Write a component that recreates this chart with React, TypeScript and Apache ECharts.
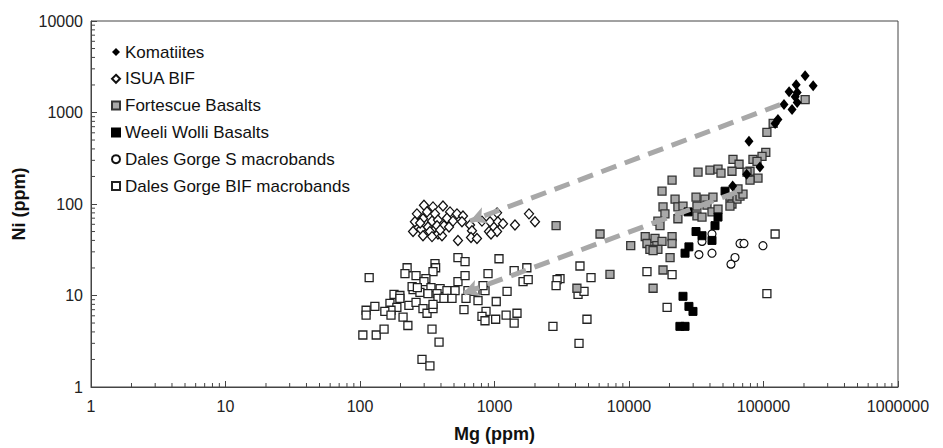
import React, { useEffect, useRef } from 'react';
import * as echarts from 'echarts';

// ---- Data: [Mg (ppm), Ni (ppm)] ----
const komatiites: number[][] = [
  [204000, 2520], [175000, 2010], [234000, 1960], [155000, 1690], [178000, 1650],
  [172000, 1490], [142000, 1220], [178000, 1290], [163000, 1080], [128000, 840],
  [122000, 760], [78000, 484], [94000, 253], [75000, 212], [59000, 157],
];

const isuaBif: number[][] = [
  [299, 97], [349, 93], [414, 95], [265, 78], [315, 82], [361, 78], [467, 82], [526, 78],
  [583, 74], [256, 64], [294, 69], [343, 65], [380, 67], [443, 70], [491, 65], [573, 64],
  [248, 50], [284, 53], [320, 56], [374, 58], [421, 58], [331, 50], [380, 47], [294, 45],
  [343, 44], [407, 45], [658, 59], [680, 51], [535, 40], [669, 43], [741, 42], [807, 65],
  [926, 64], [1045, 80], [1060, 64], [1157, 61], [910, 50], [1045, 50], [1420, 59],
  [1805, 78], [2000, 64], [942, 47], [280, 62], [394, 52], [459, 56],
];

const fortescueBasalts: number[][] = [
  [204000, 1385], [118000, 759], [106000, 606], [104000, 367], [97500, 332], [83500, 308],
  [89500, 293], [59300, 308], [65800, 272], [79400, 228], [91000, 192], [79400, 182],
  [75400, 223], [32600, 223], [40000, 234], [45900, 240], [48300, 217], [58300, 228],
  [20900, 182], [17600, 138], [22000, 113], [31500, 119], [36700, 113], [42100, 119],
  [17900, 93], [23100, 93], [25200, 95], [32000, 95], [38000, 97], [18500, 78], [23100, 69],
  [32000, 74], [34900, 72], [41400, 82], [45900, 88], [16400, 65], [17000, 58], [56300, 119],
  [58300, 100], [63500, 113], [66900, 122], [70400, 128], [64600, 146], [56300, 95],
  [2870, 58], [6090, 47], [10300, 35], [13200, 44], [13600, 37], [15600, 42], [16100, 35],
  [17600, 39], [20900, 44], [20900, 37], [14300, 32], [16400, 32], [15100, 31], [20200, 26],
  [17900, 19], [7220, 17], [15100, 12], [4100, 12],
];

const weeliWolliBasalts: number[][] = [
  [51800, 138], [27500, 82], [45900, 72], [43600, 58], [31500, 50], [34900, 45], [41400, 40],
  [27900, 34], [26100, 29], [25200, 9.8], [27900, 7.6], [29900, 6.7], [23900, 4.6], [26100, 4.6],
];

const dalesGorgeS: number[][] = [
  [41400, 47], [34900, 39], [33100, 28], [41400, 29], [66900, 37], [71600, 37], [99100, 35],
  [61400, 26], [57300, 22],
];

const dalesGorgeBif: number[][] = [
  [122000, 47], [106000, 10.5], [19200, 7.4], [13600, 18.2], [20900, 16.9], [4320, 21],
  [5220, 15.7], [4180, 10.3], [4630, 11.1], [4870, 5.5], [4250, 3.0], [3070, 15.3],
  [2720, 4.6], [2920, 14.9], [2870, 12.8], [1400, 18.7], [1630, 14.2], [1780, 14.9],
  [1740, 20.1], [1080, 25.2], [1240, 11.1], [1030, 8.6], [865, 6.7], [807, 5.9], [850, 5.3],
  [1020, 5.5], [1220, 6.1], [1400, 5.0], [1470, 6.4], [535, 25.9], [604, 23.4], [535, 14.2],
  [604, 16.5], [635, 11.3], [716, 11.1], [754, 8.8], [850, 11.3], [822, 12.8], [895, 17.3],
  [117, 15.7], [224, 20.1], [216, 17.3], [261, 16.5], [361, 22.3], [365, 20.1], [349, 18.2],
  [309, 15.3], [299, 14.2], [252, 12.2], [265, 11.9], [248, 11.6], [279, 10.8], [337, 12.2],
  [394, 11.9], [443, 11.3], [509, 11.3], [374, 10.5], [380, 9.3], [320, 10.5], [179, 10.3],
  [198, 10], [198, 9.3], [167, 8.2], [188, 7.4], [170, 6.9], [153, 6.7], [170, 6.1],
  [209, 5.8], [227, 4.7], [231, 7.8], [261, 8.4], [294, 7.2], [315, 6.4], [349, 7.2],
  [349, 8.0], [421, 9.3], [483, 9.3], [614, 9.3], [593, 7.0], [111, 6.9], [111, 6.1],
  [129, 7.6], [105, 3.7], [132, 3.7], [151, 4.3], [343, 4.3], [387, 3.1], [289, 2.0],
  [331, 1.7], [244, 12.5], [267, 12.2],
];

// Trend arrows: [start, end] in [Mg, Ni]
const upperArrow: number[][] = [[133000, 1220], [658, 65]];
const lowerArrow: number[][] = [[63500, 135], [583, 10.5]];

// Axis ticks
const xTickLabels = ['1', '10', '100', '1000', '10000', '100000', '1000000'];
const yTickLabels = ['1', '10', '100', '1000', '10000'];
const minorMultipliers = [2, 3, 4, 5, 6, 7, 8, 9];

const FONT = '"Liberation Sans", Arial, Helvetica, sans-serif';
const AXIS_COLOR = '#444';

function buildMinorTicks(decades: number, axis: 'x' | 'y'): number[][] {
  const out: number[][] = [];
  for (let k = 0; k < decades; k++) {
    for (const m of minorMultipliers) {
      const v = m * Math.pow(10, k);
      out.push(axis === 'x' ? [v, 1] : [1, v]);
    }
  }
  return out;
}

export default function App() {
  const ref = useRef<HTMLDivElement>(null);
  useEffect(() => {
    if (!ref.current) return;
    const chart = echarts.init(ref.current, null, { renderer: 'svg' });
    const xMinor = buildMinorTicks(xTickLabels.length - 1, 'x');
    const yMinor = buildMinorTicks(yTickLabels.length - 1, 'y');
    const labelFromLog = (labels: string[]) => (v: number) => {
      const i = Math.round(Math.log10(v));
      return labels[i] ?? '';
    };
    const option: any = {
      animation: false,
      backgroundColor: '#fff',
      textStyle: { fontFamily: FONT },
      grid: {
        left: 91, right: 45, top: 21, bottom: 59,
        show: true, borderColor: AXIS_COLOR, borderWidth: 1, backgroundColor: 'transparent',
      },
      legend: {
        orient: 'vertical',
        left: 106,
        top: 38,
        itemWidth: 8,
        itemHeight: 8,
        itemGap: 8.8,
        selectedMode: false,
        textStyle: { fontFamily: FONT, fontSize: 17, color: '#111', lineHeight: 18 },
        data: [
          { name: 'Komatiites', icon: 'diamond' },
          { name: 'ISUA BIF', icon: 'diamond' },
          { name: 'Fortescue Basalts', icon: 'rect' },
          { name: 'Weeli Wolli Basalts', icon: 'rect' },
          { name: 'Dales Gorge S macrobands', icon: 'circle' },
          { name: 'Dales Gorge BIF macrobands', icon: 'rect' },
        ],
      },
      xAxis: {
        type: 'log',
        logBase: 10,
        min: 1,
        max: 1000000,
        splitNumber: 6,
        name: 'Mg (ppm)',
        nameLocation: 'middle',
        nameGap: 38,
        nameTextStyle: { fontFamily: FONT, fontSize: 18, fontWeight: 'bold', color: '#111' },
        axisLine: { show: true, lineStyle: { color: AXIS_COLOR, width: 1 } },
        axisTick: { show: true, inside: true, length: 6, lineStyle: { color: AXIS_COLOR } },
        axisLabel: { fontFamily: FONT, fontSize: 16, color: '#222', margin: 11, formatter: labelFromLog(xTickLabels) },
        splitLine: { show: false },
      },
      yAxis: {
        type: 'log',
        logBase: 10,
        min: 1,
        max: 10000,
        splitNumber: 4,
        name: 'Ni (ppm)',
        nameLocation: 'middle',
        nameGap: 56,
        nameRotate: 90,
        nameTextStyle: { fontFamily: FONT, fontSize: 18, fontWeight: 'bold', color: '#111' },
        axisLine: { show: true, lineStyle: { color: AXIS_COLOR, width: 1 } },
        axisTick: { show: true, inside: true, length: 6, lineStyle: { color: AXIS_COLOR } },
        axisLabel: { fontFamily: FONT, fontSize: 16, color: '#222', margin: 8, formatter: labelFromLog(yTickLabels) },
        splitLine: { show: false },
      },
      series: [
        {
          name: 'xMinorTicks', type: 'custom', silent: true, clip: false, data: xMinor,
          renderItem: (params: any, api: any) => {
            const p = api.coord([api.value(0), api.value(1)]);
            return { type: 'line', shape: { x1: p[0], y1: p[1], x2: p[0], y2: p[1] - 4 }, style: { stroke: AXIS_COLOR, lineWidth: 1 } };
          },
        },
        {
          name: 'yMinorTicks', type: 'custom', silent: true, clip: false, data: yMinor,
          renderItem: (params: any, api: any) => {
            const p = api.coord([api.value(0), api.value(1)]);
            return { type: 'line', shape: { x1: p[0], y1: p[1], x2: p[0] + 4, y2: p[1] }, style: { stroke: AXIS_COLOR, lineWidth: 1 } };
          },
        },
        {
          name: 'Dales Gorge BIF macrobands', type: 'scatter', symbol: 'rect', symbolSize: 8,
          itemStyle: { color: '#fff', borderColor: '#222', borderWidth: 1.3, opacity: 1 },
          data: dalesGorgeBif, z: 2,
        },
        {
          name: 'ISUA BIF', type: 'scatter', symbol: 'diamond', symbolSize: [9, 10],
          itemStyle: { color: '#fff', borderColor: '#111', borderWidth: 1.3, opacity: 1 },
          data: isuaBif, z: 2,
        },
        {
          name: 'Dales Gorge S macrobands', type: 'scatter', symbol: 'circle', symbolSize: 8,
          itemStyle: { color: '#fff', borderColor: '#111', borderWidth: 1.2, opacity: 1 },
          data: dalesGorgeS, z: 2,
        },
        {
          name: 'Fortescue Basalts', type: 'scatter', symbol: 'rect', symbolSize: 8,
          itemStyle: { color: '#a8a8a8', borderColor: '#333', borderWidth: 1.3, opacity: 1 },
          data: fortescueBasalts, z: 3,
        },
        {
          name: 'Weeli Wolli Basalts', type: 'scatter', symbol: 'rect', symbolSize: 8,
          itemStyle: { color: '#000', borderColor: '#000', borderWidth: 1, opacity: 1 },
          data: weeliWolliBasalts, z: 3,
        },
        {
          name: 'Komatiites', type: 'scatter', symbol: 'diamond', symbolSize: [9, 11],
          itemStyle: { color: '#000', opacity: 1 },
          data: komatiites, z: 3,
        },
        {
          name: 'trendArrows', type: 'scatter', data: [], z: 5,
          markLine: {
            silent: true,
            animation: false,
            symbol: ['none', 'arrow'],
            symbolSize: [13, 16],
            label: { show: false },
            emphasis: { disabled: true },
            lineStyle: { color: '#a8a8a8', width: 5, type: [16, 9], opacity: 1, cap: 'butt' },
            data: [
              [{ coord: upperArrow[0] }, { coord: upperArrow[1] }],
              [{ coord: lowerArrow[0] }, { coord: lowerArrow[1] }],
            ],
          },
        },
      ],
    };
    chart.setOption(option);
    return () => chart.dispose();
  }, []);
  return (
    <div
      ref={ref}
      style={{ position: 'fixed', left: 0, top: 0, width: 943, height: 448, background: '#fff' }}
    />
  );
}
